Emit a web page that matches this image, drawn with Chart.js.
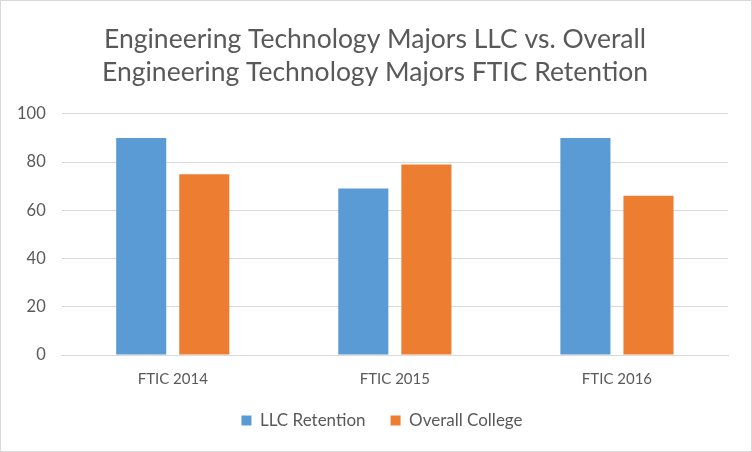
<!DOCTYPE html>
<html>
<head>
<meta charset="utf-8">
<script src="https://cdn.jsdelivr.net/npm/chart.js@4"></script>
<style>
html,body{margin:0;padding:0;background:#fff;}
#wrap{width:750px;height:450px;border:1px solid #d9d9d9;position:relative;}
canvas{display:block;}
</style>
</head>
<body>
<div id="wrap"><canvas id="c" width="750" height="450"></canvas></div>
<script>
const categories = ["FTIC 2014", "FTIC 2015", "FTIC 2016"];
const llcRetention = [90, 69, 90];
const overallCollege = [75, 79, 66];
const yTicks = [0, 20, 40, 60, 80, 100];
const titleLines = ["Engineering Technology Majors LLC vs. Overall", "Engineering Technology Majors FTIC Retention"];

const FONT = "Lato, 'Open Sans', sans-serif";
const centerBlocks = {
  id: 'centerBlocks',
  afterLayout(chart) {
    const t = chart.titleBlock;
    if (t) { t.left = -1; t.right = chart.width - 1; t.width = chart.width; }
    const l = chart.legend;
    if (l) { l.left = 6; l.right = chart.width + 6; l.width = chart.width; }
  }
};
new Chart(document.getElementById('c'), {
  type: 'bar',
  data: {
    labels: categories,
    datasets: [
      {label: 'LLC Retention', data: llcRetention, backgroundColor: '#5B9BD5', categoryPercentage: 0.568, barPercentage: 0.794},
      {label: 'Overall College', data: overallCollege, backgroundColor: '#ED7D31', categoryPercentage: 0.568, barPercentage: 0.794}
    ]
  },
  plugins: [centerBlocks],
  options: {
    responsive: false,
    animation: false,
    layout: {padding: {left: 0, right: 23, top: 0, bottom: 12}},
    plugins: {
      title: {display: true, text: titleLines, color: '#595959', font: {family: FONT, size: 26.5, weight: 'normal', lineHeight: 1.28}, padding: {top: 21, bottom: 24}},
      legend: {position: 'bottom', labels: {color: '#595959', font: {family: FONT, size: 17}, boxWidth: 10, boxHeight: 10, padding: 25}},
      tooltip: {enabled: false}
    },
    scales: {
      x: {
        grid: {display: false, drawTicks: false},
        border: {display: true, color: '#d9d9d9'},
        ticks: {color: '#595959', font: {family: FONT, size: 15}, padding: 15},
        afterFit: (axis) => { axis.height = 32; }
      },
      y: {
        min: 0, max: 100,
        afterBuildTicks: (axis) => { axis.ticks = yTicks.map(v => ({value: v})); },
        grid: {color: '#d9d9d9', drawTicks: false},
        border: {display: false},
        ticks: {color: '#595959', font: {family: FONT, size: 16.5}, padding: 16}
      }
    }
  }
});
</script>
</body>
</html>
